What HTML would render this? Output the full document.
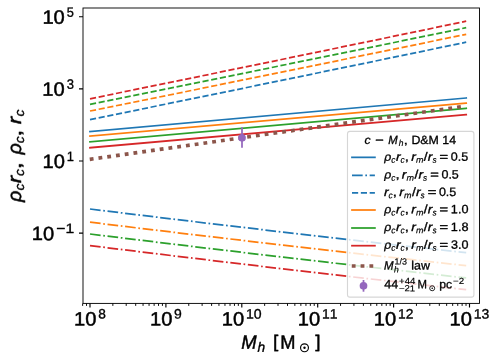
<!DOCTYPE html>
<html lang="en"><head><meta charset="utf-8"><title>Core density scaling relations vs halo mass</title>
<style>html,body{margin:0;padding:0;background:#fff}body{width:499px;height:361px;overflow:hidden;font-family:"Liberation Sans",sans-serif}svg{display:block;will-change:transform}text{font-family:"Liberation Sans",sans-serif;white-space:pre;text-rendering:geometricPrecision;font-kerning:none;font-variant-ligatures:none;fill:#000;stroke:#000;stroke-linejoin:round}.t{filter:url(#soft)}</style>
</head><body>
<svg width="499" height="361" viewBox="0 0 499 361" font-family="Liberation Sans, sans-serif">
<defs><filter id="soft" x="-10%" y="-10%" width="120%" height="120%" color-interpolation-filters="sRGB"><feGaussianBlur stdDeviation="0.35"/></filter></defs>
<rect width="499" height="361" fill="#fff"/>
<g fill="none" stroke-width="1.75">
<path d="M90 131.5Q278.1 115.45 466.2 98" stroke="#1f77b4" stroke-linecap="square"/>
<path d="M90 209Q278.1 232.15 466.2 252.7" stroke="#1f77b4" stroke-dasharray="10.667 2.667 1.667 2.667"/>
<path d="M90 119.6Q278.1 81.3 466.2 42.2" stroke="#1f77b4" stroke-dasharray="6.167 2.667"/>
<path d="M90 136Q278.1 120.25 466.2 103.1" stroke="#ff7f0e" stroke-linecap="square"/>
<path d="M90 222.2Q278.1 245.2 466.2 265.6" stroke="#ff7f0e" stroke-dasharray="10.667 2.667 1.667 2.667"/>
<path d="M90 111Q278.1 73.05 466.2 34.3" stroke="#ff7f0e" stroke-dasharray="6.167 2.667"/>
<path d="M90 141.8Q278.1 125.75 466.2 108.3" stroke="#2ca02c" stroke-linecap="square"/>
<path d="M90 234Q278.1 257.25 466.2 277.9" stroke="#2ca02c" stroke-dasharray="10.667 2.667 1.667 2.667"/>
<path d="M90 104.3Q278.1 66.4 466.2 27.7" stroke="#2ca02c" stroke-dasharray="6.167 2.667"/>
<path d="M90 147.7Q278.1 131.9 466.2 114.7" stroke="#d62728" stroke-linecap="square"/>
<path d="M90 245.6Q278.1 268.95 466.2 289.7" stroke="#d62728" stroke-dasharray="10.667 2.667 1.667 2.667"/>
<path d="M90 98.8Q278.1 60.4 466.2 21.2" stroke="#d62728" stroke-dasharray="6.167 2.667"/>
</g>
<path d="M89.75 159.34L465.5 106.1" stroke="#8c564b" stroke-width="3.65" stroke-dasharray="3.833 5" fill="none"/>
<path d="M242 127.2V147.8" stroke="#9467bd" stroke-width="1.75" fill="none"/>
<circle cx="242" cy="137.8" r="3.85" fill="#9467bd"/>
<rect x="83" y="8" width="396.5" height="295.4" fill="none" stroke="#000" stroke-width="0.92"/>
<path d="M83 16.7h-4M83 88.84h-4M83 160.98h-4M83 233.12h-4M90 303.4v4M165.9 303.4v4M241.8 303.4v4M317.7 303.4v4M393.6 303.4v4M469.5 303.4v4" stroke="#000" stroke-width="1.15" fill="none"/>
<path d="M82.64 303.4v2.5M86.53 303.4v2.5M112.85 303.4v2.5M126.21 303.4v2.5M135.7 303.4v2.5M143.05 303.4v2.5M149.06 303.4v2.5M154.14 303.4v2.5M158.54 303.4v2.5M162.43 303.4v2.5M188.75 303.4v2.5M202.11 303.4v2.5M211.6 303.4v2.5M218.95 303.4v2.5M224.96 303.4v2.5M230.04 303.4v2.5M234.44 303.4v2.5M238.33 303.4v2.5M264.65 303.4v2.5M278.01 303.4v2.5M287.5 303.4v2.5M294.85 303.4v2.5M300.86 303.4v2.5M305.94 303.4v2.5M310.34 303.4v2.5M314.23 303.4v2.5M340.55 303.4v2.5M353.91 303.4v2.5M363.4 303.4v2.5M370.75 303.4v2.5M376.76 303.4v2.5M381.84 303.4v2.5M386.24 303.4v2.5M390.13 303.4v2.5M416.45 303.4v2.5M429.81 303.4v2.5M439.3 303.4v2.5M446.65 303.4v2.5M452.66 303.4v2.5M457.74 303.4v2.5M462.14 303.4v2.5M466.03 303.4v2.5" stroke="#000" stroke-width="0.95" fill="none"/>
<g id="yticklabels">
<g class="t"><text transform="translate(42.41 23.7) rotate(.03) scale(1.037 1)" font-size="19.4" stroke-width="0.48">10</text><text transform="translate(66.8 16.69) rotate(.03) scale(0.939 1)" font-size="13.58" stroke-width="0.34">5</text></g>
<g class="t"><text transform="translate(42.32 95.84) rotate(.03) scale(1.037 1)" font-size="19.4" stroke-width="0.48">10</text><text transform="translate(66.71 88.83) rotate(.03) scale(0.955 1)" font-size="13.58" stroke-width="0.34">3</text></g>
<g class="t"><text transform="translate(42.47 167.98) rotate(.03) scale(1.037 1)" font-size="19.4" stroke-width="0.48">10</text><text transform="translate(66.81 160.97) rotate(.03) scale(0.950 1)" font-size="13.58" stroke-width="0.34">1</text></g>
<g class="t"><text transform="translate(31.74 240.12) rotate(.03) scale(1.037 1)" font-size="19.4" stroke-width="0.48">10</text><text transform="translate(56.23 233.11) rotate(.03) scale(1.155 1)" font-size="13.58" stroke-width="0.34">−1</text></g>
</g><g id="xticklabels">
<g class="t"><text transform="translate(74.04 325.6) rotate(.03) scale(1.037 1)" font-size="19.4" stroke-width="0.48">10</text><text transform="translate(98.23 318.59) rotate(.03) scale(1.005 1)" font-size="13.58" stroke-width="0.34">8</text></g>
<g class="t"><text transform="translate(149.96 325.6) rotate(.03) scale(1.037 1)" font-size="19.4" stroke-width="0.48">10</text><text transform="translate(174.02 318.59) rotate(.03) scale(1.027 1)" font-size="13.58" stroke-width="0.34">9</text></g>
<g class="t"><text transform="translate(221.75 325.6) rotate(.03) scale(1.037 1)" font-size="19.4" stroke-width="0.48">10</text><text transform="translate(246 318.59) rotate(.03) scale(1.037 1)" font-size="13.58" stroke-width="0.34">10</text></g>
<g class="t"><text transform="translate(297.82 325.6) rotate(.03) scale(1.037 1)" font-size="19.4" stroke-width="0.48">10</text><text transform="translate(322.08 318.59) rotate(.03) scale(1.023 1)" font-size="13.58" stroke-width="0.34">11</text></g>
<g class="t"><text transform="translate(373.77 325.6) rotate(.03) scale(1.037 1)" font-size="19.4" stroke-width="0.48">10</text><text transform="translate(398.03 318.59) rotate(.03) scale(1.017 1)" font-size="13.58" stroke-width="0.34">12</text></g>
<g class="t"><text transform="translate(449.54 325.6) rotate(.03) scale(1.037 1)" font-size="19.4" stroke-width="0.48">10</text><text transform="translate(473.79 318.59) rotate(.03) scale(1.029 1)" font-size="13.58" stroke-width="0.34">13</text></g>
</g>
<g id="xlabel"><g class="t"><text transform="translate(241.32 348.7) rotate(.03) scale(0.951 1)" font-size="19.4" stroke-width="0.48" font-style="italic">M</text><text transform="translate(257.41 351.7) rotate(.03) scale(1.014 1)" font-size="13.58" stroke-width="0.34" font-style="italic">h</text><text transform="translate(272.94 347.49) rotate(.03) scale(1.089 1)" font-size="17.51" stroke-width="0.44">[</text><text transform="translate(280.17 348.7) rotate(.03) scale(0.941 1)" font-size="19.4" stroke-width="0.48">M</text><text transform="translate(315.22 347.49) rotate(.03) scale(1.089 1)" font-size="17.51" stroke-width="0.44">]</text></g>
<circle cx="304.5" cy="347.8" r="3.95" fill="none" stroke="#000" stroke-width="1.15"/><circle cx="304.5" cy="347.8" r="1.2" fill="#000"/></g>
<g id="ylabel"><g class="t" transform="translate(0 202.9) rotate(-90)"><text transform="translate(0.98 21.1) rotate(.03) scale(1.036 1)" font-size="18.96" stroke-width="0.47" font-style="italic">ρ</text><text transform="translate(12.55 24.1) rotate(.03) scale(1.038 1)" font-size="13.27" stroke-width="0.33" font-style="italic">c</text><text transform="translate(19.63 21.1) rotate(.03) scale(1.179 1)" font-size="18.96" stroke-width="0.47" font-style="italic">r</text><text transform="translate(27 24.1) rotate(.03) scale(1.038 1)" font-size="13.27" stroke-width="0.33" font-style="italic">c</text><text transform="translate(33.4 21.1) rotate(.03) scale(1.407 1)" font-size="18.96" stroke-width="0.38">,</text><text transform="translate(48.48 21.1) rotate(.03) scale(1.036 1)" font-size="18.96" stroke-width="0.47" font-style="italic">ρ</text><text transform="translate(59.85 24.1) rotate(.03) scale(1.038 1)" font-size="13.27" stroke-width="0.33" font-style="italic">c</text><text transform="translate(66 21.1) rotate(.03) scale(1.407 1)" font-size="18.96" stroke-width="0.38">,</text><text transform="translate(78.83 21.1) rotate(.03) scale(1.179 1)" font-size="18.96" stroke-width="0.47" font-style="italic">r</text><text transform="translate(86.55 24.1) rotate(.03) scale(1.038 1)" font-size="13.27" stroke-width="0.33" font-style="italic">c</text></g></g>
<g id="legend">
<rect x="347.5" y="131.4" width="126.4" height="165.7" rx="2.4" fill="#fff" fill-opacity="0.8" stroke="#ccc" stroke-opacity="0.8" stroke-width="1.1"/>
<g class="t"><text transform="translate(364.52 143.9) rotate(.03) scale(1.038 1)" font-size="11.66" stroke-width="0.3" font-style="italic">c</text><text transform="translate(375.19 143.9) rotate(.03) scale(1.244 1)" font-size="11.66" stroke-width="0.47">−</text><text transform="translate(388.22 143.9) rotate(.03) scale(0.951 1)" font-size="11.93" stroke-width="0.31" font-style="italic">M</text><text transform="translate(398.71 146.05) rotate(.03) scale(0.966 1)" font-size="8.76" stroke-width="0.18" font-style="italic">h</text><text transform="translate(403.57 143.9) rotate(.03) scale(1.407 1)" font-size="11.66" stroke-width="0.23">,</text><text transform="translate(411.42 143.9) rotate(.03) scale(1.037 1)" font-size="11.93" stroke-width="0.31">D&amp;M 14</text></g>
<path d="M352.0 157.35H374.9" stroke="#1f77b4" stroke-width="1.75" fill="none" stroke-linecap="square"/>
<g class="t"><text transform="translate(384.33 160.7) rotate(.03) scale(1.036 1)" font-size="11.81" stroke-width="0.31" font-style="italic">ρ</text><text transform="translate(391.17 162.85) rotate(.03) scale(0.988 1)" font-size="8.68" stroke-width="0.17" font-style="italic">c</text><text transform="translate(395.96 160.7) rotate(.03) scale(1.179 1)" font-size="11.81" stroke-width="0.31" font-style="italic">r</text><text transform="translate(400.56 162.85) rotate(.03) scale(0.988 1)" font-size="8.68" stroke-width="0.17" font-style="italic">c</text><text transform="translate(404.56 160.7) rotate(.03) scale(1.407 1)" font-size="11.81" stroke-width="0.24">,</text><text transform="translate(411.24 160.7) rotate(.03) scale(1.179 1)" font-size="11.81" stroke-width="0.31" font-style="italic">r</text><text transform="translate(415.89 162.85) rotate(.03) scale(1.039 1)" font-size="8.68" stroke-width="0.17" font-style="italic">m</text><text transform="translate(423.85 160.7) rotate(.03) scale(1.144 1)" font-size="12.08" stroke-width="0.31">/</text><text transform="translate(427.86 160.7) rotate(.03) scale(1.179 1)" font-size="11.81" stroke-width="0.31" font-style="italic">r</text><text transform="translate(432.44 162.85) rotate(.03) scale(0.942 1)" font-size="8.68" stroke-width="0.17" font-style="italic">s</text><text transform="translate(439.62 160.7) rotate(.03) scale(1.244 1)" font-size="11.81" stroke-width="0.47">=</text><text transform="translate(450.82 160.7) rotate(.03) scale(1.036 1)" font-size="12.08" stroke-width="0.31">0.5</text></g>
<path d="M352.0 175.35H374.9" stroke="#1f77b4" stroke-width="1.75" fill="none" stroke-dasharray="10.667 2.667 1.667 2.667"/>
<g class="t"><text transform="translate(384.33 178.5) rotate(.03) scale(1.036 1)" font-size="11.81" stroke-width="0.31" font-style="italic">ρ</text><text transform="translate(391.17 180.65) rotate(.03) scale(0.988 1)" font-size="8.68" stroke-width="0.17" font-style="italic">c</text><text transform="translate(395.17 178.5) rotate(.03) scale(1.407 1)" font-size="11.81" stroke-width="0.24">,</text><text transform="translate(401.86 178.5) rotate(.03) scale(1.179 1)" font-size="11.81" stroke-width="0.31" font-style="italic">r</text><text transform="translate(406.51 180.65) rotate(.03) scale(1.039 1)" font-size="8.68" stroke-width="0.17" font-style="italic">m</text><text transform="translate(414.46 178.5) rotate(.03) scale(1.144 1)" font-size="12.08" stroke-width="0.31">/</text><text transform="translate(418.47 178.5) rotate(.03) scale(1.179 1)" font-size="11.81" stroke-width="0.31" font-style="italic">r</text><text transform="translate(423.06 180.65) rotate(.03) scale(0.942 1)" font-size="8.68" stroke-width="0.17" font-style="italic">s</text><text transform="translate(430.23 178.5) rotate(.03) scale(1.244 1)" font-size="11.81" stroke-width="0.47">=</text><text transform="translate(441.43 178.5) rotate(.03) scale(1.036 1)" font-size="12.08" stroke-width="0.31">0.5</text></g>
<path d="M352.0 192.95H374.9" stroke="#1f77b4" stroke-width="1.75" fill="none" stroke-dasharray="6.167 2.667"/>
<g class="t"><text transform="translate(384.02 196.1) rotate(.03) scale(1.179 1)" font-size="11.81" stroke-width="0.31" font-style="italic">r</text><text transform="translate(388.62 198.25) rotate(.03) scale(0.988 1)" font-size="8.68" stroke-width="0.17" font-style="italic">c</text><text transform="translate(392.62 196.1) rotate(.03) scale(1.407 1)" font-size="11.81" stroke-width="0.24">,</text><text transform="translate(399.31 196.1) rotate(.03) scale(1.179 1)" font-size="11.81" stroke-width="0.31" font-style="italic">r</text><text transform="translate(403.96 198.25) rotate(.03) scale(1.039 1)" font-size="8.68" stroke-width="0.17" font-style="italic">m</text><text transform="translate(411.91 196.1) rotate(.03) scale(1.144 1)" font-size="12.08" stroke-width="0.31">/</text><text transform="translate(415.92 196.1) rotate(.03) scale(1.179 1)" font-size="11.81" stroke-width="0.31" font-style="italic">r</text><text transform="translate(420.51 198.25) rotate(.03) scale(0.942 1)" font-size="8.68" stroke-width="0.17" font-style="italic">s</text><text transform="translate(427.68 196.1) rotate(.03) scale(1.244 1)" font-size="11.81" stroke-width="0.47">=</text><text transform="translate(438.88 196.1) rotate(.03) scale(1.036 1)" font-size="12.08" stroke-width="0.31">0.5</text></g>
<path d="M352.0 210.0H374.9" stroke="#ff7f0e" stroke-width="1.75" fill="none" stroke-linecap="square"/>
<g class="t"><text transform="translate(384.33 213.3) rotate(.03) scale(1.036 1)" font-size="11.81" stroke-width="0.31" font-style="italic">ρ</text><text transform="translate(391.17 215.45) rotate(.03) scale(0.988 1)" font-size="8.68" stroke-width="0.17" font-style="italic">c</text><text transform="translate(395.96 213.3) rotate(.03) scale(1.179 1)" font-size="11.81" stroke-width="0.31" font-style="italic">r</text><text transform="translate(400.56 215.45) rotate(.03) scale(0.988 1)" font-size="8.68" stroke-width="0.17" font-style="italic">c</text><text transform="translate(404.56 213.3) rotate(.03) scale(1.407 1)" font-size="11.81" stroke-width="0.24">,</text><text transform="translate(411.24 213.3) rotate(.03) scale(1.179 1)" font-size="11.81" stroke-width="0.31" font-style="italic">r</text><text transform="translate(415.89 215.45) rotate(.03) scale(1.039 1)" font-size="8.68" stroke-width="0.17" font-style="italic">m</text><text transform="translate(423.85 213.3) rotate(.03) scale(1.144 1)" font-size="12.08" stroke-width="0.31">/</text><text transform="translate(427.86 213.3) rotate(.03) scale(1.179 1)" font-size="11.81" stroke-width="0.31" font-style="italic">r</text><text transform="translate(432.44 215.45) rotate(.03) scale(0.942 1)" font-size="8.68" stroke-width="0.17" font-style="italic">s</text><text transform="translate(439.62 213.3) rotate(.03) scale(1.244 1)" font-size="11.81" stroke-width="0.47">=</text><text transform="translate(450.85 213.3) rotate(.03) scale(1.046 1)" font-size="12.08" stroke-width="0.31">1.0</text></g>
<path d="M352.0 228.0H374.9" stroke="#2ca02c" stroke-width="1.75" fill="none" stroke-linecap="square"/>
<g class="t"><text transform="translate(384.33 231.1) rotate(.03) scale(1.036 1)" font-size="11.81" stroke-width="0.31" font-style="italic">ρ</text><text transform="translate(391.17 233.25) rotate(.03) scale(0.988 1)" font-size="8.68" stroke-width="0.17" font-style="italic">c</text><text transform="translate(395.96 231.1) rotate(.03) scale(1.179 1)" font-size="11.81" stroke-width="0.31" font-style="italic">r</text><text transform="translate(400.56 233.25) rotate(.03) scale(0.988 1)" font-size="8.68" stroke-width="0.17" font-style="italic">c</text><text transform="translate(404.56 231.1) rotate(.03) scale(1.407 1)" font-size="11.81" stroke-width="0.24">,</text><text transform="translate(411.24 231.1) rotate(.03) scale(1.179 1)" font-size="11.81" stroke-width="0.31" font-style="italic">r</text><text transform="translate(415.89 233.25) rotate(.03) scale(1.039 1)" font-size="8.68" stroke-width="0.17" font-style="italic">m</text><text transform="translate(423.85 231.1) rotate(.03) scale(1.144 1)" font-size="12.08" stroke-width="0.31">/</text><text transform="translate(427.86 231.1) rotate(.03) scale(1.179 1)" font-size="11.81" stroke-width="0.31" font-style="italic">r</text><text transform="translate(432.44 233.25) rotate(.03) scale(0.942 1)" font-size="8.68" stroke-width="0.17" font-style="italic">s</text><text transform="translate(439.62 231.1) rotate(.03) scale(1.244 1)" font-size="11.81" stroke-width="0.47">=</text><text transform="translate(450.84 231.1) rotate(.03) scale(1.049 1)" font-size="12.08" stroke-width="0.31">1.8</text></g>
<path d="M352.0 245.7H374.9" stroke="#d62728" stroke-width="1.75" fill="none" stroke-linecap="square"/>
<g class="t"><text transform="translate(384.33 248.7) rotate(.03) scale(1.036 1)" font-size="11.81" stroke-width="0.31" font-style="italic">ρ</text><text transform="translate(391.17 250.85) rotate(.03) scale(0.988 1)" font-size="8.68" stroke-width="0.17" font-style="italic">c</text><text transform="translate(395.96 248.7) rotate(.03) scale(1.179 1)" font-size="11.81" stroke-width="0.31" font-style="italic">r</text><text transform="translate(400.56 250.85) rotate(.03) scale(0.988 1)" font-size="8.68" stroke-width="0.17" font-style="italic">c</text><text transform="translate(404.56 248.7) rotate(.03) scale(1.407 1)" font-size="11.81" stroke-width="0.24">,</text><text transform="translate(411.24 248.7) rotate(.03) scale(1.179 1)" font-size="11.81" stroke-width="0.31" font-style="italic">r</text><text transform="translate(415.89 250.85) rotate(.03) scale(1.039 1)" font-size="8.68" stroke-width="0.17" font-style="italic">m</text><text transform="translate(423.85 248.7) rotate(.03) scale(1.144 1)" font-size="12.08" stroke-width="0.31">/</text><text transform="translate(427.86 248.7) rotate(.03) scale(1.179 1)" font-size="11.81" stroke-width="0.31" font-style="italic">r</text><text transform="translate(432.44 250.85) rotate(.03) scale(0.942 1)" font-size="8.68" stroke-width="0.17" font-style="italic">s</text><text transform="translate(439.62 248.7) rotate(.03) scale(1.244 1)" font-size="11.81" stroke-width="0.47">=</text><text transform="translate(450.95 248.7) rotate(.03) scale(1.040 1)" font-size="12.08" stroke-width="0.31">3.0</text></g>
<path d="M351.75 266.0H374.9" stroke="#8c564b" stroke-width="3.65" stroke-dasharray="3.833 5" fill="none"/>
<g class="t"><text transform="translate(383.95 269.5) rotate(.03) scale(0.951 1)" font-size="12.08" stroke-width="0.31" font-style="italic">M</text><text transform="translate(394.53 264.4) rotate(.03) scale(1.004 1)" font-size="8.88" stroke-width="0.18">1/3</text><text transform="translate(393.97 272.62) rotate(.03) scale(0.966 1)" font-size="8.88" stroke-width="0.18" font-style="italic">h</text><text transform="translate(411.35 269.5) rotate(.03) scale(1.033 1)" font-size="12.08" stroke-width="0.31">law</text></g>
<path d="M363.5 280V291.7" stroke="#9467bd" stroke-width="1.75" fill="none"/><circle cx="363.5" cy="285.85" r="3.85" fill="#9467bd"/>
<g class="t"><text transform="translate(384.32 288.25) rotate(.03) scale(1.039 1)" font-size="12.08" stroke-width="0.31">44</text><text transform="translate(399.09 283.89) rotate(.03) scale(1.082 1)" font-size="8.88" stroke-width="0.18">+44</text><text transform="translate(398.93 291.37) rotate(.03) scale(1.075 1)" font-size="8.88" stroke-width="0.18">−21</text><text transform="translate(417.6 288.25) rotate(.03) scale(0.941 1)" font-size="12.08" stroke-width="0.31">M</text><text transform="translate(439.2 288.25) rotate(.03) scale(1.032 1)" font-size="11.81" stroke-width="0.31">pc</text><text transform="translate(452.98 283.89) rotate(.03) scale(1.095 1)" font-size="8.88" stroke-width="0.18">−2</text></g>
<circle cx="432.2" cy="288.25" r="2.5" fill="none" stroke="#000" stroke-width="0.85"/><circle cx="432.2" cy="288.25" r="0.8" fill="#000"/>
</g>
</svg>
</body></html>
